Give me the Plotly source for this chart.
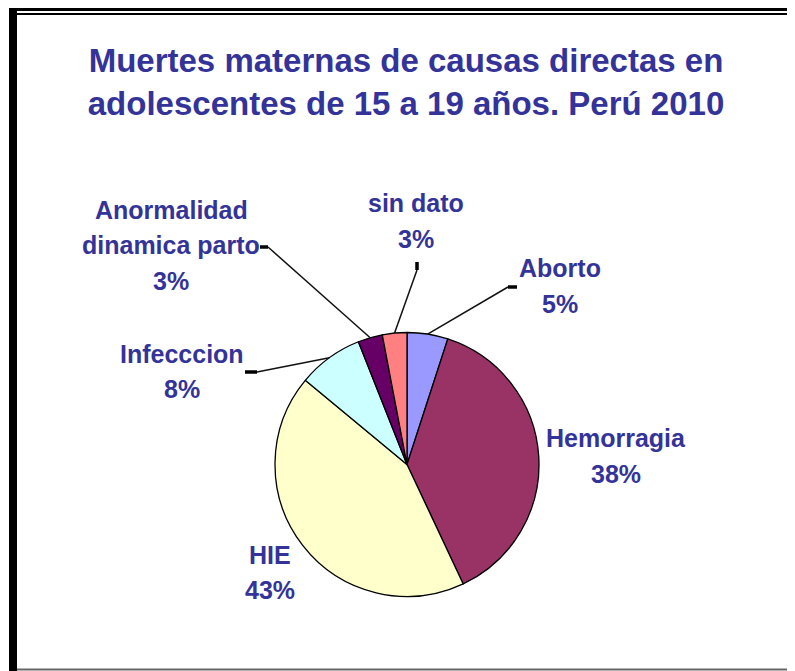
import math
import plotly.graph_objects as go

# ---- data ----
categories = ["Aborto", "Hemorragia", "HIE", "Infecccion", "Anormalidad dinamica parto", "sin dato"]
percentages = [5, 38, 43, 8, 3, 3]
slice_colors = ["#9999FF", "#993366", "#FFFFCC", "#CCFFFF", "#660066", "#FF8080"]
title_text = "Muertes maternas de causas directas en<br>adolescentes de 15 a 19 años. Perú 2010"

# ---- layout constants (screen pixels; page body has an 8px margin) ----
OFF = 8
W, H = 795 - OFF, 671 - OFF
CX, CY, R = 407, 464.5, 132
TXT = "#333399"
FONT = "Liberation Sans, Arial, sans-serif"

def px(x):
    return (x - OFF) / W

def py(y):
    return 1 - (y - OFF) / H

# label layout: lines of text, center x, baselines; leader end point and tick
label_layout = {
    "Aborto": dict(lines=["Aborto"], cx=560, base=[277, 313], end=(508, 287), tick=((508, 287), (517, 287))),
    "Hemorragia": dict(lines=["Hemorragia"], cx=616, base=[447, 483], end=None, tick=None),
    "HIE": dict(lines=["HIE"], cx=270, base=[564, 599], end=None, tick=None),
    "Infecccion": dict(lines=["Infecccion"], cx=182, base=[363, 398], end=(257, 372), tick=((245, 372), (257, 372))),
    "Anormalidad dinamica parto": dict(lines=["Anormalidad", "dinamica parto"], cx=171, base=[219, 254, 290],
                                       end=(268, 247), tick=((260, 247), (268, 247))),
    "sin dato": dict(lines=["sin dato"], cx=416, base=[212, 248], end=(417, 270), tick=((417, 262), (417, 270))),
}

fig = go.Figure()
fig.add_trace(go.Pie(
    labels=categories,
    values=percentages,
    marker=dict(colors=slice_colors, line=dict(color="#000000", width=1.3)),
    sort=False,
    direction="clockwise",
    rotation=0,
    textinfo="none",
    hovertemplate="%{label}: %{percent}<extra></extra>",
    domain=dict(x=[px(CX - R), px(CX + R)], y=[py(CY + R), py(CY - R)]),
    showlegend=False,
))

annotations = []
shapes = []
total = sum(percentages)
cum = 0
for cat, val in zip(categories, percentages):
    frac_mid = (cum + val / 2) / total
    cum += val
    lay = label_layout[cat]
    pct = f"{round(val / total * 100)}%"
    lines = lay["lines"] + [pct]
    for txt, b in zip(lines, lay["base"]):
        annotations.append(dict(
            text=txt, x=px(lay["cx"]), y=py(b - 9), xref="paper", yref="paper",
            xanchor="center", yanchor="middle", showarrow=False,
            font=dict(family=FONT, size=25, color=TXT, weight="bold"),
        ))
    if lay["end"] is not None:
        ang = frac_mid * 2 * math.pi
        sx = CX + R * math.sin(ang)
        sy = CY - R * math.cos(ang)
        ex, ey = lay["end"]
        shapes.append(dict(type="line", xref="paper", yref="paper",
                           x0=px(sx), y0=py(sy), x1=px(ex), y1=py(ey),
                           line=dict(color="#111111", width=1.5)))
        (t0x, t0y), (t1x, t1y) = lay["tick"]
        shapes.append(dict(type="line", xref="paper", yref="paper",
                           x0=px(t0x), y0=py(t0y), x1=px(t1x), y1=py(t1y),
                           line=dict(color="#000000", width=3.5)))

# frame
shapes += [
    dict(type="rect", xref="paper", yref="paper", x0=px(9), x1=px(17), y0=py(OFF), y1=py(671),
         fillcolor="#000000", line=dict(width=0)),
    dict(type="rect", xref="paper", yref="paper", x0=px(9), x1=px(795), y0=py(OFF), y1=py(11),
         fillcolor="#000000", line=dict(width=0)),
    dict(type="line", xref="paper", yref="paper", x0=px(17), x1=px(795), y0=py(14), y1=py(14),
         line=dict(color="#000000", width=2)),
    dict(type="line", xref="paper", yref="paper", x0=px(17), x1=px(795), y0=py(669.5), y1=py(669.5),
         line=dict(color="#666666", width=2)),
]

fig.update_layout(
    width=W, height=H,
    margin=dict(l=0, r=0, t=0, b=0),
    paper_bgcolor="#FFFFFF",
    plot_bgcolor="#FFFFFF",
    title=dict(text=title_text, x=px(406), xanchor="center", y=py(72), yanchor="middle",
               yref="container",
               font=dict(family=FONT, size=33, color=TXT, weight="bold")),
    annotations=annotations,
    shapes=shapes,
)

fig.write_html("out.html")
